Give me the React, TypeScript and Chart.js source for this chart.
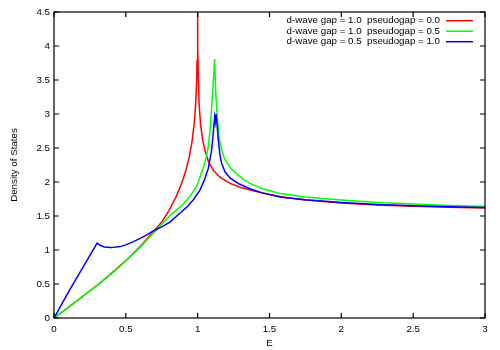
import React, { useEffect, useRef } from "react";
import { Chart, registerables } from "chart.js";

Chart.register(...registerables);

const xTickValues = [0, 0.5, 1, 1.5, 2, 2.5, 3];
const yTickValues = [0, 0.5, 1, 1.5, 2, 2.5, 3, 3.5, 4, 4.5];

const seriesLabels = [
  "d-wave gap = 1.0  pseudogap = 0.0",
  "d-wave gap = 1.0  pseudogap = 0.5",
  "d-wave gap = 0.5  pseudogap = 1.0",
];
const seriesColors = ["#ff0000", "#00ff00", "#0000ff"];

const redE = [0, 0.1, 0.2, 0.3, 0.4, 0.5, 0.6, 0.7, 0.75, 0.8, 0.85, 0.875, 0.9, 0.92, 0.94, 0.96, 0.975, 0.985, 0.992, 0.996, 0.998, 0.999, 0.9995, 1.0, 1.0005, 1.001, 1.002, 1.005, 1.01, 1.02, 1.035, 1.05, 1.075, 1.11, 1.155, 1.225, 1.3, 1.4, 1.5, 1.6, 1.75, 2.0, 2.25, 2.5, 2.75, 3.0];
const redDOS = [0, 0.157, 0.317, 0.482, 0.656, 0.843, 1.05, 1.292, 1.41, 1.58, 1.785, 1.91, 2.052, 2.184, 2.354, 2.584, 2.84, 3.111, 3.438, 3.79, 4.14, 4.49, 4.84, 5.5, 4.75, 4.4, 4.0, 3.5, 3.15, 2.85, 2.62, 2.47, 2.3, 2.17, 2.07, 1.98, 1.92, 1.865, 1.815, 1.775, 1.735, 1.69, 1.66, 1.643, 1.63, 1.618];

const greenE = [0, 0.1, 0.2, 0.3, 0.4, 0.5, 0.6, 0.7, 0.76, 0.81, 0.877, 0.924, 0.96, 0.993, 1.016, 1.04, 1.06, 1.074, 1.087, 1.097, 1.108, 1.118, 1.125, 1.132, 1.142, 1.151, 1.17, 1.19, 1.23, 1.271, 1.32, 1.364, 1.45, 1.573, 1.75, 2.0, 2.25, 2.5, 2.75, 3.0];
const greenDOS = [0, 0.157, 0.317, 0.48, 0.65, 0.84, 1.04, 1.27, 1.4, 1.51, 1.63, 1.73, 1.83, 1.94, 2.07, 2.22, 2.37, 2.52, 2.78, 3.08, 3.45, 3.81, 3.35, 3.08, 2.82, 2.62, 2.45, 2.33, 2.2, 2.12, 2.04, 1.98, 1.9, 1.83, 1.78, 1.735, 1.7, 1.675, 1.655, 1.638];

const blueE = [0, 0.05, 0.1, 0.15, 0.2, 0.25, 0.3, 0.32, 0.35, 0.4, 0.459, 0.5, 0.55, 0.6, 0.65, 0.69, 0.75, 0.807, 0.87, 0.924, 0.97, 1.016, 1.045, 1.074, 1.097, 1.11, 1.118, 1.122, 1.128, 1.136, 1.144, 1.155, 1.167, 1.19, 1.225, 1.29, 1.364, 1.45, 1.573, 1.75, 2.0, 2.25, 2.5, 2.75, 3.0];
const blueDOS = [0, 0.19, 0.38, 0.56, 0.74, 0.92, 1.1, 1.07, 1.045, 1.035, 1.05, 1.075, 1.12, 1.17, 1.225, 1.28, 1.34, 1.41, 1.53, 1.63, 1.74, 1.88, 2.02, 2.2, 2.47, 2.75, 2.95, 2.88, 3.0, 2.82, 2.61, 2.4, 2.27, 2.15, 2.06, 1.97, 1.9, 1.84, 1.78, 1.74, 1.7, 1.67, 1.65, 1.635, 1.625];

const FONT = "'Liberation Sans', Arial, sans-serif";
const FS = 9.75;

const toPoints = (xs: number[], ys: number[]) => xs.map((x, i) => ({ x, y: ys[i] }));

const framePlugin = {
  id: "frame",
  afterDatasetsDraw(chart: any) {
    const { ctx, chartArea } = chart;
    const { left, right, top, bottom } = chartArea;
    const xs = chart.scales.x;
    const ys = chart.scales.y;
    ctx.save();
    ctx.strokeStyle = "#000";
    ctx.lineWidth = 1.2;
    ctx.strokeRect(left, top, right - left, bottom - top);
    const tl = 5;
    ctx.beginPath();
    xTickValues.forEach((v) => {
      const px = xs.getPixelForValue(v);
      ctx.moveTo(px, bottom);
      ctx.lineTo(px, bottom - tl);
      ctx.moveTo(px, top);
      ctx.lineTo(px, top + tl);
    });
    yTickValues.forEach((v) => {
      const py = ys.getPixelForValue(v);
      ctx.moveTo(left, py);
      ctx.lineTo(left + tl, py);
      ctx.moveTo(right, py);
      ctx.lineTo(right - tl, py);
    });
    ctx.stroke();

    // axis titles
    ctx.fillStyle = "#000";
    ctx.font = `${FS}px ${FONT}`;
    ctx.textAlign = "center";
    ctx.textBaseline = "middle";
    ctx.fillText("E", (left + right) / 2, 343);
    ctx.save();
    ctx.translate(14, (top + bottom) / 2);
    ctx.rotate(-Math.PI / 2);
    ctx.fillText("Density of States", 0, 0);
    ctx.restore();

    // legend
    const rowY = [20.7, 31.2, 41.7];
    ctx.textAlign = "right";
    seriesLabels.forEach((lab, i) => {
      ctx.fillStyle = "#000";
      ctx.fillText(lab, 440, rowY[i]);
      ctx.strokeStyle = seriesColors[i];
      ctx.lineWidth = 1.5;
      ctx.beginPath();
      ctx.moveTo(446, rowY[i]);
      ctx.lineTo(473, rowY[i]);
      ctx.stroke();
    });
    ctx.restore();
  },
};

export default function App() {
  const ref = useRef<HTMLCanvasElement | null>(null);
  useEffect(() => {
    if (!ref.current) return;
    const mk = (i: number, xs: number[], ys: number[], order: number) => ({
      label: seriesLabels[i],
      data: toPoints(xs, ys),
      borderColor: seriesColors[i],
      backgroundColor: seriesColors[i],
      borderWidth: 1.5,
      pointRadius: 0,
      tension: 0,
      fill: false,
      order,
    });
    const chart = new Chart(ref.current, {
      type: "line",
      data: {
        datasets: [
          mk(0, redE, redDOS, 3),
          mk(1, greenE, greenDOS, 2),
          mk(2, blueE, blueDOS, 1),
        ],
      },
      options: {
        animation: false,
        responsive: false,
        maintainAspectRatio: false,
        layout: { padding: { top: 12, right: 15, left: 0, bottom: 0 } },
        plugins: { legend: { display: false }, tooltip: { enabled: false }, title: { display: false } },
        scales: {
          x: {
            type: "linear",
            min: 0,
            max: 3,
            grid: { display: false, drawTicks: false },
            border: { display: false },
            afterBuildTicks: (scale: any) => {
              scale.ticks = xTickValues.map((v) => ({ value: v }));
            },
            afterFit: (scale: any) => {
              scale.height = 32;
            },
            ticks: {
              padding: 5,
              color: "#000",
              font: { family: FONT, size: FS },
              maxRotation: 0,
              callback: (v: any) => String(v),
            },
          },
          y: {
            type: "linear",
            min: 0,
            max: 4.5,
            grid: { display: false, drawTicks: false },
            border: { display: false },
            afterBuildTicks: (scale: any) => {
              scale.ticks = yTickValues.map((v) => ({ value: v }));
            },
            afterFit: (scale: any) => {
              scale.width = 54;
            },
            ticks: {
              padding: 4,
              color: "#000",
              font: { family: FONT, size: FS },
              callback: (v: any) => String(v),
            },
          },
        },
      },
      plugins: [framePlugin],
    } as any);
    return () => chart.destroy();
  }, []);
  return (
    <div style={{ position: "absolute", left: 0, top: 0, width: 500, height: 350, background: "#fff" }}>
      <canvas ref={ref} width={500} height={350} style={{ display: "block", width: 500, height: 350 }} />
    </div>
  );
}
